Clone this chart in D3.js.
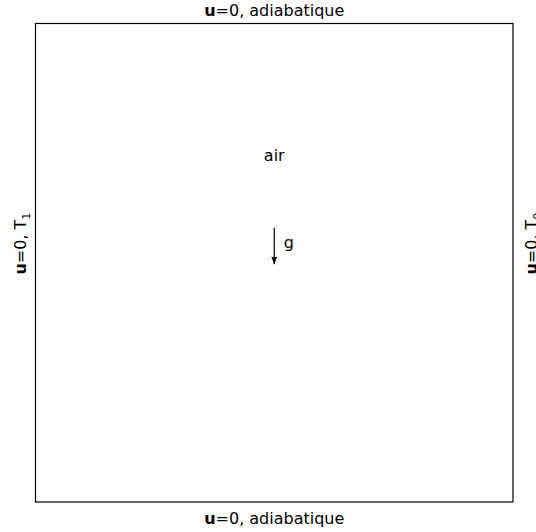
<!DOCTYPE html>
<html>
<head>
<meta charset="utf-8">
<script src="https://cdn.jsdelivr.net/npm/d3@7"></script>
<style>
  body { margin: 0; background: #fff; }
  text { font-family: "DejaVu Sans", sans-serif; font-size: 16px; fill: #000; }
</style>
</head>
<body>
<div id="chart"></div>
<script>
// Boundary conditions, side by side
const sides = ["top", "bottom", "left", "right"];
const sideLabels = [
  ["u", "=0, adiabatique", ""],
  ["u", "=0, adiabatique", ""],
  ["u", "=0, T", "1"],
  ["u", "=0, T", "0"]
];
// Annotations inside the cavity (box coordinates 0..1)
const fluidLabel = { text: "air", x: 0.5, y: 0.725 };
const gravity = { x: 0.5, y0: 0.573, y1: 0.497, label: "g", lx: 0.52, ly: 0.543 };

const width = 536, height = 532;

const x = d3.scaleLinear().domain([0, 1]).range([35.5, 513]);
const y = d3.scaleLinear().domain([0, 1]).range([502, 23.5]);

const svg = d3.select("#chart").append("svg")
    .attr("width", width)
    .attr("height", height);

svg.append("defs").append("marker")
    .attr("id", "arrow")
    .attr("viewBox", "0 0 10 10")
    .attr("refX", 10).attr("refY", 5)
    .attr("markerWidth", 6).attr("markerHeight", 6)
    .attr("orient", "auto")
    .append("path")
    .attr("d", "M0,1 L10,5 L0,9 Z")
    .attr("fill", "#000");

// The cavity
svg.append("rect")
    .attr("x", x(0)).attr("y", y(1))
    .attr("width", x(1) - x(0))
    .attr("height", y(0) - y(1))
    .attr("fill", "none")
    .attr("stroke", "#000")
    .attr("stroke-width", 1.2);

// Side label positions
const pos = {
  top: { tx: x(0.5), ty: 16, rot: 0 },
  bottom: { tx: x(0.5), ty: 524, rot: 0 },
  left: { tx: 26, ty: y(0.54), rot: -90 },
  right: { tx: 537, ty: y(0.54), rot: -90 }
};

sides.forEach(function (s, i) {
  const p = pos[s];
  const t = svg.append("text")
      .attr("text-anchor", "middle")
      .attr("transform", "translate(" + p.tx + "," + p.ty + ") rotate(" + p.rot + ")");
  const parts = sideLabels[i];
  t.append("tspan").attr("font-weight", "bold").text(parts[0]);
  t.append("tspan").text(parts[1]);
  if (parts[2]) {
    t.append("tspan").attr("font-size", "11px").attr("dy", 4).text(parts[2]);
  }
});

svg.append("text")
    .attr("x", x(fluidLabel.x))
    .attr("y", y(fluidLabel.y))
    .attr("text-anchor", "middle")
    .attr("dominant-baseline", "central")
    .text(fluidLabel.text);

svg.append("line")
    .attr("x1", x(gravity.x)).attr("x2", x(gravity.x))
    .attr("y1", y(gravity.y0)).attr("y2", y(gravity.y1))
    .attr("stroke", "#000")
    .attr("stroke-width", 1.2)
    .attr("marker-end", "url(#arrow)");

svg.append("text")
    .attr("x", x(gravity.lx))
    .attr("y", y(gravity.ly))
    .attr("dominant-baseline", "central")
    .text(gravity.label);
</script>
</body>
</html>
